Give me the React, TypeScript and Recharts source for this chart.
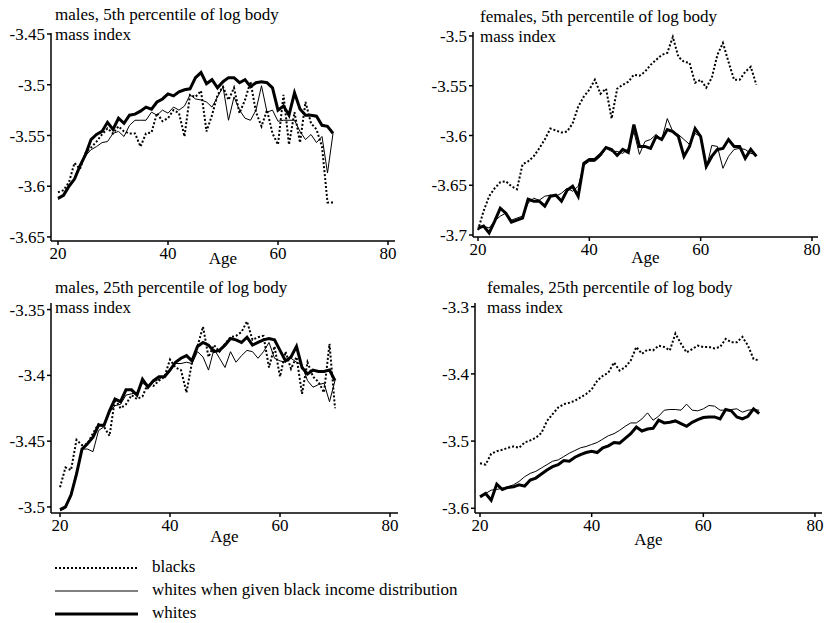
import React from "react";
import { LineChart, Line, XAxis, YAxis } from "recharts";

// ages 20..70, one point per year
const ages = [
  20, 21, 22, 23, 24, 25, 26, 27, 28, 29, 30, 31, 32, 33, 34, 35, 36, 37, 38, 39,
  40, 41, 42, 43, 44, 45, 46, 47, 48, 49, 50, 51, 52, 53, 54, 55, 56, 57, 58, 59,
  60, 61, 62, 63, 64, 65, 66, 67, 68, 69, 70,
];

// males, 5th percentile
const m5Blacks = [
  -3.606, -3.604, -3.596, -3.577, -3.583, -3.567, -3.562, -3.556, -3.549, -3.543,
  -3.548, -3.541, -3.546, -3.548, -3.548, -3.561, -3.548, -3.547, -3.528, -3.536,
  -3.533, -3.525, -3.528, -3.551, -3.51, -3.512, -3.506, -3.546, -3.53, -3.51,
  -3.502, -3.515, -3.503, -3.528, -3.515, -3.497, -3.527, -3.541, -3.525, -3.548,
  -3.559, -3.51, -3.559, -3.527, -3.557, -3.517, -3.538, -3.544, -3.561, -3.616,
  -3.616,
];
const m5Given = [
  -3.613, -3.609, -3.6, -3.592, -3.579, -3.57, -3.564, -3.561, -3.557, -3.556,
  -3.548, -3.546, -3.551, -3.54, -3.535, -3.535, -3.535, -3.527, -3.53, -3.525,
  -3.528, -3.522, -3.525, -3.521, -3.51, -3.514, -3.515, -3.517, -3.522, -3.512,
  -3.502, -3.535, -3.512, -3.525, -3.533, -3.535, -3.525, -3.501, -3.527, -3.525,
  -3.536, -3.535, -3.535, -3.535, -3.546, -3.554, -3.549, -3.557, -3.551, -3.587,
  -3.548,
];
const m5Whites = [
  -3.612, -3.609, -3.6, -3.593, -3.58, -3.569, -3.554, -3.549, -3.546, -3.537,
  -3.544, -3.533, -3.538, -3.53, -3.529, -3.526, -3.522, -3.524, -3.517, -3.514,
  -3.509, -3.511, -3.507, -3.505, -3.504, -3.493, -3.488, -3.499, -3.495, -3.503,
  -3.497, -3.493, -3.493, -3.498, -3.495, -3.502, -3.498, -3.497, -3.498, -3.503,
  -3.525, -3.521, -3.53, -3.508, -3.524, -3.53, -3.53, -3.531, -3.54, -3.541,
  -3.548,
];

// females, 5th percentile
const f5Blacks = [
  -3.695, -3.676, -3.661, -3.653, -3.647, -3.646, -3.651, -3.654, -3.629, -3.626,
  -3.621, -3.613, -3.604, -3.593, -3.595, -3.597, -3.596, -3.588, -3.571, -3.561,
  -3.554, -3.544, -3.558, -3.553, -3.583, -3.553, -3.549, -3.546, -3.539, -3.54,
  -3.536, -3.529, -3.524, -3.519, -3.517, -3.501, -3.521, -3.526, -3.527, -3.547,
  -3.544, -3.552, -3.542, -3.519, -3.507, -3.526, -3.544, -3.544, -3.536, -3.531,
  -3.549,
];
const f5Given = [
  -3.695, -3.691, -3.693, -3.686, -3.681, -3.678, -3.685, -3.683, -3.681, -3.668,
  -3.663, -3.665, -3.661, -3.66, -3.661, -3.658, -3.653, -3.656, -3.651, -3.63,
  -3.626, -3.626, -3.621, -3.613, -3.616, -3.616, -3.618, -3.613, -3.596, -3.619,
  -3.606, -3.604, -3.599, -3.604, -3.583, -3.596, -3.599, -3.604, -3.609, -3.598,
  -3.601, -3.633, -3.61, -3.611, -3.633, -3.621, -3.614, -3.613, -3.614, -3.618,
  -3.619,
];
const f5Whites = [
  -3.693, -3.691, -3.698, -3.686, -3.673, -3.678, -3.687, -3.685, -3.683, -3.664,
  -3.666, -3.666, -3.671, -3.661, -3.66, -3.666, -3.655, -3.651, -3.661, -3.628,
  -3.624, -3.624, -3.619, -3.612, -3.614, -3.62, -3.614, -3.617, -3.589, -3.611,
  -3.611, -3.613, -3.601, -3.604, -3.594, -3.596, -3.601, -3.621, -3.611, -3.593,
  -3.601, -3.631, -3.621, -3.614, -3.613, -3.604, -3.611, -3.611, -3.623, -3.614,
  -3.621,
];

// males, 25th percentile
const m25Blacks = [
  -3.485, -3.47, -3.472, -3.449, -3.453, -3.452, -3.444, -3.437, -3.439, -3.446,
  -3.418, -3.425, -3.422, -3.415, -3.418, -3.416, -3.406, -3.408, -3.404, -3.401,
  -3.388, -3.394, -3.396, -3.413, -3.39, -3.378, -3.363, -3.386, -3.377, -3.382,
  -3.376, -3.371, -3.37, -3.367, -3.359, -3.373, -3.371, -3.37, -3.394, -3.378,
  -3.401, -3.382, -3.395, -3.386, -3.414, -3.39, -3.401, -3.405, -3.413, -3.376,
  -3.425,
];
const m25Given = [
  -3.503, -3.501, -3.49, -3.473, -3.456, -3.456, -3.458, -3.442, -3.439, -3.428,
  -3.423, -3.422, -3.415, -3.414, -3.413, -3.406, -3.408, -3.405, -3.403, -3.4,
  -3.395, -3.391, -3.391, -3.39, -3.391, -3.382, -3.386, -3.396, -3.38, -3.387,
  -3.394, -3.382, -3.39, -3.385, -3.381, -3.382, -3.387, -3.382, -3.375, -3.387,
  -3.389, -3.39, -3.387, -3.39, -3.392, -3.404, -3.409, -3.407, -3.406, -3.42,
  -3.404,
];
const m25Whites = [
  -3.502, -3.5, -3.491, -3.475, -3.456, -3.452, -3.447, -3.438, -3.438, -3.427,
  -3.418, -3.42, -3.411, -3.411, -3.415, -3.403, -3.409, -3.404, -3.401, -3.401,
  -3.396, -3.39, -3.387, -3.385, -3.389, -3.378, -3.375, -3.377, -3.382, -3.381,
  -3.377, -3.372, -3.373, -3.375, -3.371, -3.377, -3.375, -3.373, -3.372, -3.373,
  -3.381, -3.389, -3.386, -3.378, -3.394, -3.399, -3.396, -3.397, -3.397, -3.396,
  -3.404,
];

// females, 25th percentile
const f25Blacks = [
  -3.533, -3.535, -3.519, -3.515, -3.513, -3.51, -3.508, -3.51, -3.502, -3.499,
  -3.495, -3.488, -3.47, -3.46, -3.45, -3.445, -3.443, -3.44, -3.435, -3.43,
  -3.423, -3.41, -3.403, -3.398, -3.383, -3.395, -3.39, -3.38, -3.36, -3.37,
  -3.364, -3.365, -3.358, -3.36, -3.365, -3.34, -3.355, -3.368, -3.363, -3.358,
  -3.36, -3.36, -3.362, -3.36, -3.348, -3.353, -3.353, -3.345, -3.358, -3.378,
  -3.38,
];
const f25Given = [
  -3.582, -3.578, -3.573, -3.572, -3.57, -3.568, -3.565, -3.56, -3.553, -3.548,
  -3.545, -3.54, -3.535, -3.53, -3.528, -3.523, -3.518, -3.514, -3.51, -3.508,
  -3.505, -3.502, -3.497, -3.492, -3.489, -3.484, -3.478, -3.473, -3.473, -3.467,
  -3.458, -3.469, -3.463, -3.454, -3.453, -3.453, -3.454, -3.445, -3.454, -3.455,
  -3.452, -3.447, -3.448, -3.454, -3.454, -3.453, -3.452, -3.457, -3.454, -3.453,
  -3.454,
];
const f25Whites = [
  -3.583, -3.578, -3.588, -3.564, -3.572, -3.569, -3.568, -3.565, -3.567, -3.558,
  -3.555, -3.549, -3.543, -3.538, -3.535, -3.529, -3.53, -3.524, -3.52, -3.517,
  -3.515, -3.517, -3.51, -3.507, -3.502, -3.503, -3.496, -3.489, -3.479, -3.485,
  -3.482, -3.481, -3.469, -3.473, -3.472, -3.47, -3.474, -3.478, -3.472, -3.468,
  -3.465, -3.464, -3.464, -3.467, -3.453, -3.455, -3.464, -3.467, -3.463, -3.452,
  -3.459,
];

const ageTicks = [20, 40, 60, 80];
const m5Ticks = [-3.65, -3.6, -3.55, -3.5, -3.45];
const f5Ticks = [-3.7, -3.65, -3.6, -3.55, -3.5];
const m25Ticks = [-3.5, -3.45, -3.4, -3.35];
const f25Ticks = [-3.6, -3.5, -3.4, -3.3];

const legendLabels = ["blacks", "whites when given black income distribution", "whites"];

const serif = '"Liberation Serif", "Times New Roman", serif';

const toRows = (b: number[], g: number[], w: number[]) =>
  ages.map((age, i) => ({ age, blacks: b[i], given: g[i], whites: w[i] }));

type Box = {
  left: number; top: number; width: number; height: number;
  mt: number; mr: number; yw: number; xh: number; padL: number; padR: number;
  ageOffset: number; titleX: number; titleY: number;
};

function Panel({ title, rows, domain, ticks, box }: {
  title: string[]; rows: any[]; domain: [number, number]; ticks: number[]; box: Box;
}) {
  const tickStyle = { fill: "#000", fontSize: 17, fontFamily: serif };
  return (
    <div style={{ position: "absolute", left: box.left, top: box.top, width: box.width, height: box.height }}>
      <LineChart
        width={box.width}
        height={box.height}
        data={rows}
        margin={{ top: box.mt, right: box.mr, left: 0, bottom: 0 }}
      >
        <XAxis
          dataKey="age"
          type="number"
          domain={[20, 80]}
          ticks={ageTicks}
          padding={{ left: box.padL, right: box.padR }}
          height={box.xh}
          stroke="#000"
          strokeWidth={1.5}
          tickSize={4}
          tick={tickStyle}
          label={{ value: "Age", position: "insideBottom", offset: box.ageOffset, fill: "#000", fontSize: 17, fontFamily: serif }}
        />
        <YAxis
          type="number"
          domain={domain}
          ticks={ticks}
          allowDataOverflow
          width={box.yw}
          stroke="#000"
          strokeWidth={1.5}
          tickSize={4}
          tick={tickStyle}
          tickFormatter={(v: number) => String(v)}
        />
        <Line dataKey="blacks" type="linear" stroke="#000" strokeWidth={2} strokeDasharray="2 2" dot={false} isAnimationActive={false} />
        <Line dataKey="given" type="linear" stroke="#000" strokeWidth={1} dot={false} isAnimationActive={false} />
        <Line dataKey="whites" type="linear" stroke="#000" strokeWidth={3} dot={false} isAnimationActive={false} />
      </LineChart>
      <div style={{
        position: "absolute", left: box.titleX, top: box.titleY, fontFamily: serif, fontSize: 17,
        lineHeight: "20px", color: "#000", whiteSpace: "nowrap",
      }}>
        {title.map((t) => <div key={t}>{t}</div>)}
      </div>
    </div>
  );
}

function LegendBlock() {
  const styles = [
    { w: 2, dash: "2 2" },
    { w: 1, dash: undefined },
    { w: 3, dash: undefined },
  ];
  return (
    <svg style={{ position: "absolute", left: 0, top: 555 }} width={500} height={68}>
      {legendLabels.map((lab, i) => (
        <g key={lab}>
          <line x1={55} x2={138} y1={13 + i * 23} y2={13 + i * 23} stroke="#000" strokeWidth={styles[i].w} strokeDasharray={styles[i].dash} />
          <text x={152} y={13 + i * 23} dominantBaseline="middle" fontFamily={serif} fontSize={17} fill="#000">{lab}</text>
        </g>
      ))}
    </svg>
  );
}

export default function App() {
  return (
    <div style={{ position: "absolute", left: 0, top: 0, width: 827, height: 623, background: "#fff", overflow: "hidden" }}>
      <Panel
        title={["males, 5th percentile of log body", "mass index"]}
        rows={toRows(m5Blacks, m5Given, m5Whites)}
        domain={[-3.654, -3.449]}
        ticks={m5Ticks}
        box={{ left: 0, top: 0, width: 410, height: 275, mt: 33, mr: 15, yw: 51, xh: 34, padL: 7, padR: 7, ageOffset: 11, titleX: 55, titleY: 5 }}
      />
      <Panel
        title={["females, 5th percentile of log body", "mass index"]}
        rows={toRows(f5Blacks, f5Given, f5Whites)}
        domain={[-3.702, -3.496]}
        ticks={f5Ticks}
        box={{ left: 410, top: 0, width: 417, height: 275, mt: 32, mr: 9, yw: 63, xh: 38, padL: 5, padR: 6, ageOffset: 12, titleX: 70, titleY: 7 }}
      />
      <Panel
        title={["males, 25th percentile of log body", "mass index"]}
        rows={toRows(m25Blacks, m25Given, m25Whites)}
        domain={[-3.5046, -3.345]}
        ticks={m25Ticks}
        box={{ left: 0, top: 280, width: 410, height: 285, mt: 23, mr: 12, yw: 51, xh: 52, padL: 9, padR: 8, ageOffset: 23, titleX: 55, titleY: -2 }}
      />
      <Panel
        title={["females, 25th percentile of log body", "mass index"]}
        rows={toRows(f25Blacks, f25Given, f25Whites)}
        domain={[-3.607, -3.2945]}
        ticks={f25Ticks}
        box={{ left: 410, top: 280, width: 417, height: 285, mt: 23, mr: 5, yw: 65, xh: 52, padL: 5, padR: 7, ageOffset: 20, titleX: 77, titleY: -2 }}
      />
      <LegendBlock />
    </div>
  );
}
